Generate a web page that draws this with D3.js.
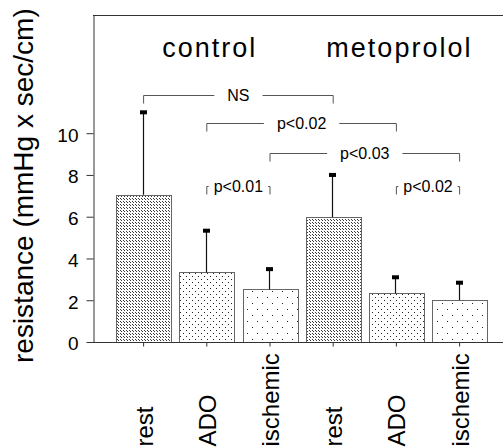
<!DOCTYPE html>
<html>
<head>
<meta charset="utf-8">
<script src="https://cdn.jsdelivr.net/npm/d3@7"></script>
<style>
  html, body { margin: 0; padding: 0; background: #fff; }
  svg { display: block; font-family: "Liberation Sans", Arial, Helvetica, sans-serif; }
</style>
</head>
<body>
<svg id="chart" width="503" height="448"></svg>
<script>
// ---- data ----
const categories = ["rest", "ADO", "ischemic", "rest", "ADO", "ischemic"];
const treatments = ["control", "metoprolol"];
const means = [7.05, 3.33, 2.52, 5.98, 2.33, 2.0];
const errorTops = [11.0, 5.33, 3.49, 8.0, 3.1, 2.84];
const yTicks = [0, 2, 4, 6, 8, 10];
const bracketFrom = [0, 1, 2, 1, 4];
const bracketTo = [3, 4, 5, 2, 5];
const bracketLabels = ["NS", "p<0.02", "p<0.03", "p<0.01", "p<0.02"];
const bracketLevels = [11.85, 10.5, 9.05, 7.45, 7.45];
const patternKinds = ["dense", "medium", "sparse", "dense", "medium", "sparse"];

// ---- layout ----
const svg = d3.select("#chart");
const axisLeft = 93, axisRight = 503, axisTop = 15, axisBottom = 342;

const x = d3.scaleBand()
  .domain(d3.range(categories.length))
  .range([112, 491.2])
  .paddingInner(0.13)
  .paddingOuter(0.065);

const y = d3.scaleLinear().domain([0, 15.66]).range([axisBottom, axisTop]);

// ---- patterns ----
const defs = svg.append("defs");
function makePattern(id, w, h, dots, color) {
  const p = defs.append("pattern").attr("id", id)
    .attr("patternUnits", "userSpaceOnUse")
    .attr("width", w).attr("height", h);
  p.append("rect").attr("width", w).attr("height", h).attr("fill", "#fff");
  dots.forEach(([dx, dy]) => {
    p.append("rect").attr("x", dx).attr("y", dy).attr("width", 1).attr("height", 1).attr("fill", color);
  });
}
makePattern("dense", 3, 3, [[0, 0], [1, 1]], "#3a3a3a");
makePattern("medium", 6, 6, [[0, 0], [3, 3]], "#222");
makePattern("sparse", 10, 12, [[2, 3], [7, 9]], "#222");

// ---- frame ----
svg.append("line").attr("x1", axisLeft).attr("x2", axisRight)
  .attr("y1", axisTop + 0.5).attr("y2", axisTop + 0.5)
  .attr("stroke", "#333").attr("stroke-width", 1);

// ---- bars ----
svg.append("g").selectAll("rect").data(means).join("rect")
  .attr("x", (d, i) => Math.round(x(i)) + 0.5)
  .attr("y", d => Math.round(y(d)) + 0.5)
  .attr("width", Math.round(x.bandwidth()))
  .attr("height", d => Math.round(y(0)) - Math.round(y(d)))
  .attr("fill", (d, i) => `url(#${patternKinds[i]})`)
  .attr("stroke", "#666")
  .attr("stroke-width", 1);

// ---- error bars ----
const eb = svg.append("g");
errorTops.forEach((t, i) => {
  const cx = Math.round(x(i) + x.bandwidth() / 2) - 1 + 0.5;
  eb.append("line").attr("x1", cx).attr("x2", cx)
    .attr("y1", y(means[i])).attr("y2", y(t))
    .attr("stroke", "#111").attr("stroke-width", 1.2);
  eb.append("rect").attr("x", cx - 3.5).attr("y", y(t) - 2)
    .attr("width", 7).attr("height", 4).attr("fill", "#000");
});

// ---- y axis ----
const yAxis = d3.axisLeft(y).tickValues(yTicks).tickSize(7).tickSizeOuter(0)
  .tickPadding(8).tickFormat(d3.format("d"));
const gy = svg.append("g").attr("transform", `translate(${axisLeft + 0.5},0)`).call(yAxis);
gy.select(".domain").attr("stroke", "#333");
gy.selectAll(".tick line").attr("stroke", "#333");
gy.selectAll(".tick text").attr("font-size", 19).attr("fill", "#000")
  .attr("font-family", "'Liberation Sans', Arial, sans-serif").attr("dy", "0.42em");

// ---- x axis ----
const xAxis = d3.axisBottom(x).tickSize(4).tickSizeOuter(0).tickFormat(i => categories[i]);
const gx = svg.append("g").attr("transform", `translate(0,${axisBottom + 0.5})`).call(xAxis);
gx.select(".domain").attr("d", `M${axisLeft},0H${axisRight}`).attr("stroke", "#333");
gx.selectAll(".tick line").attr("stroke", "#333");
gx.selectAll(".tick text")
  .attr("font-size", 24).attr("fill", "#000")
  .attr("font-family", "'Liberation Sans', Arial, sans-serif")
  .attr("text-anchor", "start")
  .attr("dy", null)
  .attr("transform", "translate(9,104) rotate(-90)")
  .attr("x", 0).attr("y", 0);

// ---- y title ----
svg.append("text")
  .attr("transform", "translate(33,363) rotate(-90)")
  .attr("font-size", 28)
  .attr("fill", "#000")
  .text("resistance (mmHg x sec/cm)");

// ---- group titles ----
treatments.forEach((t, g) => {
  const c = (x(g * 3) + x(g * 3 + 2) + x.bandwidth()) / 2 + 3;
  svg.append("text")
    .attr("x", c).attr("y", 57)
    .attr("text-anchor", "middle")
    .attr("font-size", 27)
    .attr("letter-spacing", 2)
    .attr("fill", "#000")
    .text(t);
});

// ---- significance brackets ----
const br = svg.append("g");
bracketLabels.forEach((lab, k) => {
  const x1 = x(bracketFrom[k]) + x.bandwidth() / 2;
  const x2 = x(bracketTo[k]) + x.bandwidth() / 2;
  const yy = Math.round(y(bracketLevels[k])) + 0.5;
  const mid = (x1 + x2) / 2;
  const txt = br.append("text").attr("x", mid).attr("y", yy)
    .attr("dy", "0.36em").attr("text-anchor", "middle")
    .attr("font-size", 16).attr("fill", "#000").text(lab);
  const w = txt.node().getComputedTextLength();
  const gap = (bracketTo[k] - bracketFrom[k]) > 1 ? 13 : 5;
  const tick = 8;
  br.append("path")
    .attr("d", `M${x1},${yy + tick}V${yy}H${mid - w / 2 - gap}M${mid + w / 2 + gap},${yy}H${x2}V${yy + tick}`)
    .attr("fill", "none").attr("stroke", "#555").attr("stroke-width", 1);
});
</script>
</body>
</html>
